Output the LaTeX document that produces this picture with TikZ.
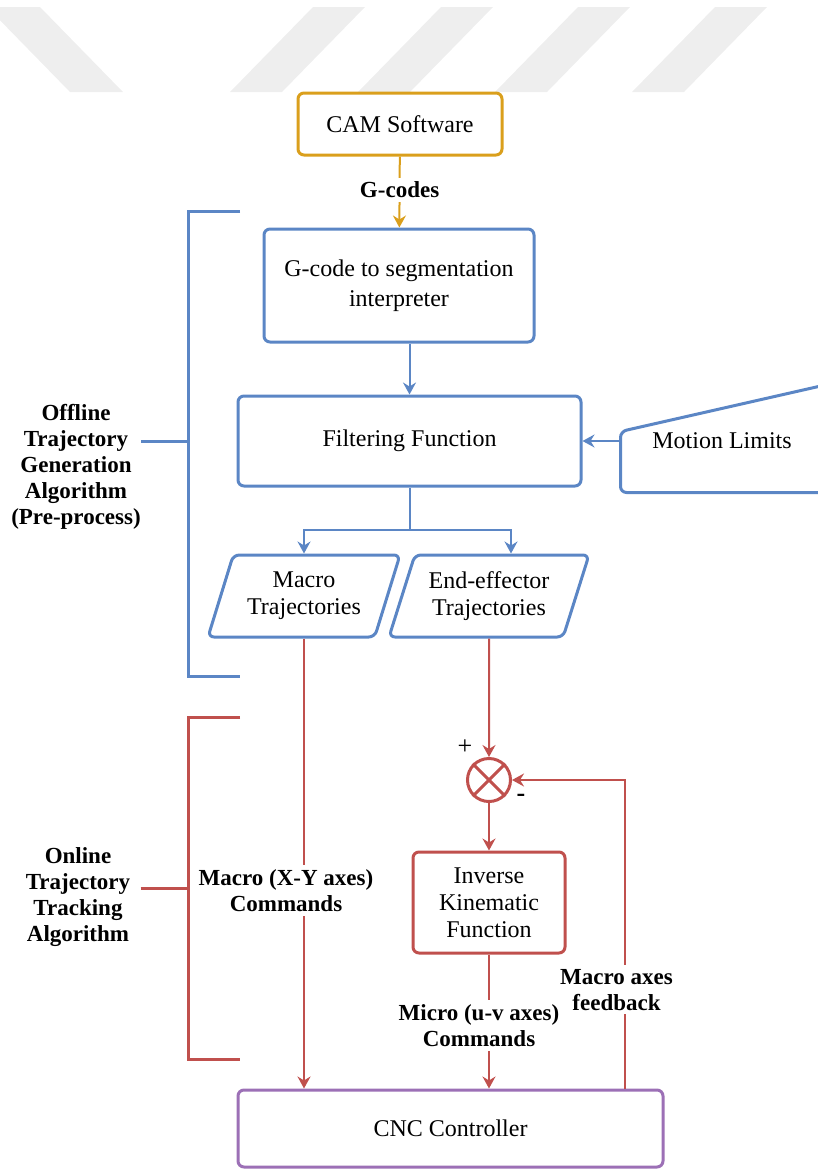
\documentclass[tikz,border=0pt]{standalone}
\usepackage{fontspec}
\setmainfont{Liberation Serif}
\usetikzlibrary{arrows.meta,positioning,calc,shapes.geometric}

\definecolor{camorange}{HTML}{DA9F1C}
\definecolor{offblue}{HTML}{5B86C5}
\definecolor{onred}{HTML}{C0504D}
\definecolor{cncpurple}{HTML}{9C70B6}
\definecolor{markgray}{HTML}{EEEEEE}

\begin{document}
\begin{tikzpicture}[
    x=0.5pt, y=-0.5pt,
    mod/.style={
        rectangle, rounded corners=3pt, draw=#1, line width=1.5pt,
        fill=white, align=center, inner sep=2pt,
        font=\fontsize{12}{13.5}\selectfont
    },
    data/.style={
        trapezium, trapezium left angle=64, trapezium right angle=116,
        trapezium stretches body, rounded corners=3pt, draw=offblue,
        line width=1.5pt, minimum height=41pt, align=center, inner sep=1pt,
        font=\fontsize{12}{13.5}\selectfont
    },
    arr/.style={-{Stealth[length=6pt,width=6.5pt,inset=2pt]}, line width=1pt, draw=#1},
    link/.style={line width=1pt, draw=#1},
    brace/.style={line width=1.5pt, draw=#1},
    lab/.style={font=\fontsize{11.5}{13}\selectfont\bfseries, align=center, fill=white, inner sep=2pt},
    sign/.style={font=\fontsize{13}{14}\selectfont, inner sep=0pt},
]
\path[use as bounding box] (0,0) rectangle (818,1169);
\clip (0,0) rectangle (818,1169);

% Watermark stripes
\fill[markgray] (-13,7) -- (40,7) -- (123,92) -- (70,92) -- cycle;
\foreach \x in {313,441,578,715}
    \fill[markgray] (\x,7) -- (\x+52,7) -- (\x-31,92) -- (\x-83,92) -- cycle;

% Pre-process blocks
\node[mod=camorange, minimum width=102pt, minimum height=31pt] (cam) at (400,124) {CAM Software};
\node[mod=offblue, minimum width=135pt, minimum height=56.5pt,
      font=\fontsize{12}{15}\selectfont] (gcode) at (399,285.5) {G-code to segmentation\\interpreter};
\node[mod=offblue, minimum width=171.5pt, minimum height=45pt] (filter) at (409.5,441) {Filtering Function};
\node[mod=offblue, draw=none, fill=none, minimum width=100pt, minimum height=50pt] (limits) at (722,441) {Motion Limits};
\draw[brace=offblue, rounded corners=3pt] ($(limits.south west)+(220,0)$) -- (limits.south west) -- ++(0,-61) -- ++(220,-50);
\node[data, minimum width=96pt] (macro) at (304,596) {Macro\\Trajectories};
\node[data, minimum width=100pt] (eff) at (489,596) {End-effector\\Trajectories};

% Online blocks
\node[circle, draw=onred, line width=1.5pt, minimum size=21.5pt, inner sep=0pt] (sum) at (489,780) {};
\draw[link=onred, line width=1.5pt] (sum.north east) -- (sum.south west) (sum.north west) -- (sum.south east);
\node[sign] (plus) at (465,747) {+};
\node[sign] (minus) at (521,798) {\textbf{-}};
\node[mod=onred, minimum width=76pt, minimum height=50.5pt] (inverse) at (489,902.5) {Inverse\\Kinematic\\Function};
\node[mod=cncpurple, minimum width=212.5pt, minimum height=38.5pt] (cnc) at (450.5,1128.5) {CNC Controller};

% Side labels and brackets
\node[lab] (offline) at (76,467) {Offline\\Trajectory\\Generation\\Algorithm\\(Pre-process)};
\node[lab] (online) at (78,897) {Online\\Trajectory\\Tracking\\Algorithm};
\coordinate (offtop) at (240,211);
\coordinate (offbot) at (240,676);
\coordinate (offtick) at (188,441);
\coordinate (ontop) at (240,717);
\coordinate (onbot) at (240,1059);
\coordinate (ontick) at (188,888);
\draw[brace=offblue] (offtop) -| (offtick) |- (offbot);
\draw[brace=offblue] ([xshift=-2pt]offline.east |- offtick) -- (offtick);
\draw[brace=onred] (ontop) -| (ontick) |- (onbot);
\draw[brace=onred] ([xshift=3pt]online.east |- ontick) -- (ontick);

% Arrows
\draw[arr=camorange] (cam) -- node[lab, pos=0.47] (glab) {G-codes} (gcode);
\draw[arr=offblue] (gcode.south -| filter.north) -- (filter.north);
\draw[arr=offblue] (limits.west) -- (filter.east);
\coordinate (split) at ($(filter.south)+(0,42)$);
\draw[link=offblue] (filter.south) -- (split);
\draw[arr=offblue] (split) -| (macro.north);
\draw[arr=offblue] (split) -| ([xshift=11pt]eff.north);
\draw[arr=onred] (macro.south) -- node[lab, pos=0.56, xshift=-9pt] (xylab) {Macro (X-Y axes)\\Commands} (macro.south |- cnc.north);
\draw[arr=onred] (eff.south) -- (sum.north);
\draw[arr=onred] (sum.south) -- (inverse.north);
\coordinate (fb) at ($(cnc.north east)+(-40,0)$);
\draw[arr=onred] (fb) |- node[lab, pos=0.16, xshift=-4pt] (fblab) {Macro axes\\feedback} (sum.east);
\draw[arr=onred] (inverse.south) -- node[lab, pos=0.53, xshift=-5pt] (uvlab) {Micro (u-v axes)\\Commands} (cnc.north -| inverse.south);
\end{tikzpicture}
\end{document}
